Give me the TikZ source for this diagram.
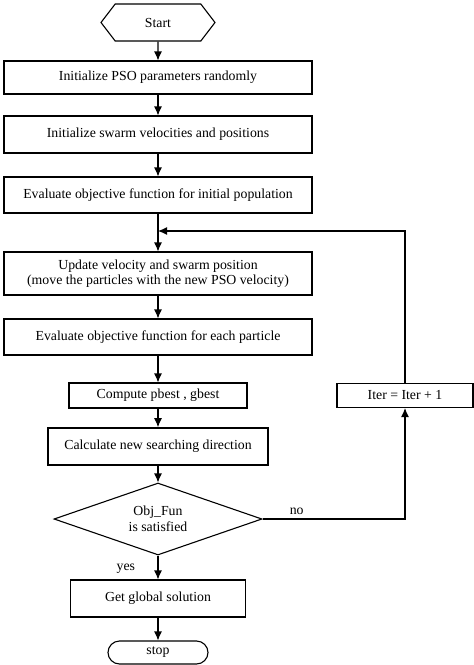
\documentclass[tikz,border=0pt]{standalone}
\usepackage{fontspec}
\setmainfont{Liberation Serif}
\usetikzlibrary{shapes.geometric,shapes.symbols,shapes.misc,arrows.meta}

\begin{document}
\begin{tikzpicture}[x=1pt, y=1pt, node distance=57pt, >={Latex[length=9pt, width=8pt]}, line width=1.1pt]
    \tikzstyle{block}=[rectangle, draw, minimum width=308pt, minimum height=36pt, align=center, font=\fontsize{13.8}{15.5}\selectfont]
    \tikzstyle{terminal}=[signal, signal to=west and east, signal pointer angle=105, draw, minimum width=114pt, minimum height=37pt, inner sep=1pt, font=\fontsize{13.8}{15.5}\selectfont]
    \tikzstyle{stopper}=[rounded rectangle, draw, minimum width=102pt, minimum height=23pt, inner sep=1pt, font=\fontsize{13.8}{15.5}\selectfont]
    \tikzstyle{decision}=[diamond, draw, aspect=2.9, minimum width=208pt, minimum height=72pt, inner sep=0pt, align=center, font=\fontsize{13.8}{16}\selectfont]

    \useasboundingbox (0,0) rectangle (474,-665);

    \node[terminal] (start) at (158,-22.5) {Start};
    \node[block, minimum height=33pt, below of=start, node distance=55pt] (params) {Initialize PSO parameters randomly};
    \node[block, minimum height=37pt, below of=params] (swarm) {Initialize swarm velocities and positions};
    \node[block, below of=swarm, node distance=60.5pt] (evalinit) {Evaluate objective function for initial population};
    \coordinate[below of=evalinit, node distance=36pt] (join);
    \node[block, minimum height=43pt, below of=evalinit, node distance=78.5pt] (update) {Update velocity and swarm position\\(move the particles with the new PSO velocity)};
    \node[block, below of=update, node distance=63.5pt] (evaleach) {Evaluate objective function for each particle};
    \node[block, minimum width=178pt, minimum height=25pt, below of=evaleach, node distance=58.5pt] (best) {Compute pbest , gbest};
    \node[block, minimum width=220pt, minimum height=37pt, line width=1.6pt, below of=best, node distance=51pt] (direction) {Calculate new searching direction};
    \node[decision, below of=direction, node distance=72.5pt] (check) {Obj\_Fun\\is satisfied};
    \node[block, minimum width=175pt, minimum height=37pt, below of=check, node distance=79.5pt] (global) {Get global solution};
    \node[stopper, below of=global, node distance=54pt] (stop) {stop};
    \node[block, minimum width=136pt, minimum height=24pt, right of=best, node distance=247pt] (iter) {Iter = Iter + 1};

    \draw[->] (start) -- (params);
    \draw[->] (params) -- (swarm);
    \draw[->] (swarm) -- (evalinit);
    \draw[->] (evalinit) -- (update);
    \draw[->] (update) -- (evaleach);
    \draw[->] (evaleach) -- (best);
    \draw[->] (best) -- (direction);
    \draw[->] (direction) -- (check);
    \draw[->] (check) -- node[pos=0.55, left=19pt, font=\fontsize{13.8}{15.5}\selectfont] {yes} (global);
    \draw[->] (global) -- (stop);
    \draw[->] (check.east) -| node[pos=0.12, above, font=\fontsize{13.8}{15.5}\selectfont] {no} (iter.south);
    \draw[->] (iter.north) |- (join);
\end{tikzpicture}
\end{document}
